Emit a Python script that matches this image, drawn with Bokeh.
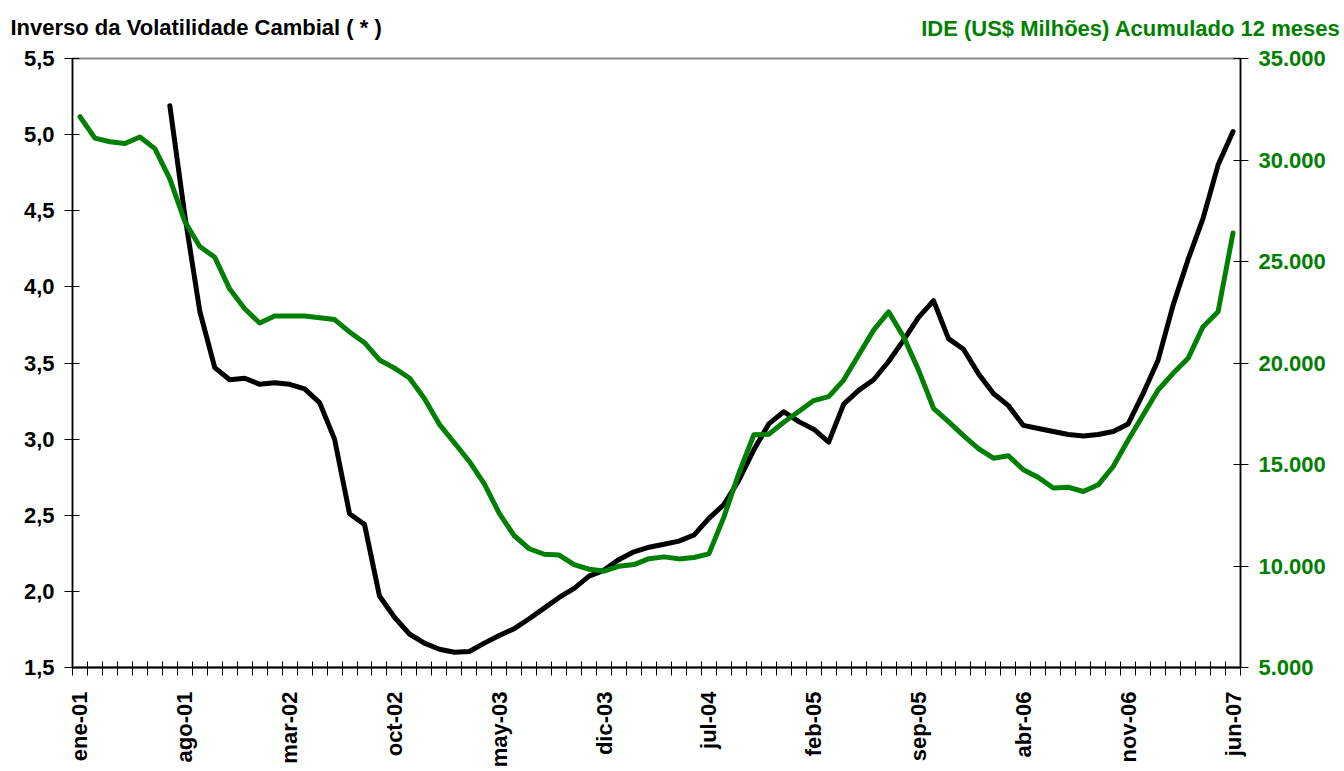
import math
import numpy as np
from bokeh.plotting import figure
from bokeh.models import (Range1d, LinearAxis, FixedTicker, CustomJSTickFormatter,
                          ColumnDataSource, Label)
from bokeh.embed import file_html
from bokeh.resources import INLINE

# ---------------- data ----------------
tick_labels = ["ene-01", "ago-01", "mar-02", "oct-02", "may-03", "dic-03",
               "jul-04", "feb-05", "sep-05", "abr-06", "nov-06", "jun-07"]
n_months = 78          # ene-01 .. jun-07, monthly
tick_step = 7

# Inverso da Volatilidade Cambial (left axis), starts jul-01
inv_volatility = [None, None, None, None, None, None,
                  5.19, 4.47, 3.84, 3.47, 3.39, 3.40, 3.36, 3.37, 3.36, 3.33,
                  3.24, 3.00, 2.51, 2.44, 1.97, 1.83, 1.72, 1.66, 1.62, 1.60,
                  1.605, 1.66, 1.71, 1.755, 1.82, 1.89, 1.96, 2.02, 2.10, 2.14,
                  2.21, 2.26, 2.29, 2.31, 2.33, 2.37, 2.48, 2.57, 2.73, 2.93,
                  3.10, 3.18, 3.115, 3.065, 2.98, 3.23, 3.32, 3.39, 3.51, 3.65,
                  3.80, 3.91, 3.66, 3.59, 3.43, 3.30, 3.22, 3.09, 3.07, 3.05,
                  3.03, 3.02, 3.03, 3.05, 3.10, 3.30, 3.52, 3.88, 4.18, 4.45,
                  4.80, 5.02]

# IDE (US$ Milhões) acumulado 12 meses (right axis)
ide_12m = [32130, 31080, 30900, 30810, 31130, 30560, 29070, 26970, 25740, 25210,
           23640, 22670, 21970, 22320, 22320, 22320, 22230, 22140, 21530, 21000,
           20150, 19750, 19260, 18250, 16980, 16070, 15150, 14050, 12590, 11490,
           10850, 10580, 10540, 10070, 9840, 9750, 9990, 10070, 10360, 10450,
           10350, 10420, 10600, 12410, 14570, 16460, 16490, 17080, 17610, 18150,
           18340, 19160, 20390, 21620, 22520, 21290, 19650, 17770, 17110, 16420,
           15780, 15310, 15430, 14740, 14360, 13840, 13880, 13670, 14000, 14900,
           16210, 17440, 18670, 19490, 20230, 21790, 22520, 26400]

left_title = "Inverso da Volatilidade Cambial ( * )"
right_title = "IDE (US$ Milhões) Acumulado 12 meses"

# ---------------- layout ----------------
W, H = 1340, 770
B_LEFT, B_RIGHT, B_TOP, B_BOTTOM = 72, 100, 58, 102
FONT = "Liberation Sans"
GREEN = "#008000"

x_idx = np.arange(n_months)
black_y = np.array([np.nan if v is None else v for v in inv_volatility], dtype=float)
src = ColumnDataSource(dict(x=x_idx, inv=black_y, ide=np.array(ide_12m, dtype=float)))

p = figure(width=W, height=H, output_backend="svg", toolbar_location=None,
           title_location=None,
           x_range=Range1d(-0.5, n_months - 0.5), y_range=Range1d(1.5, 5.5),
           min_border_left=B_LEFT, min_border_right=B_RIGHT,
           min_border_top=B_TOP, min_border_bottom=B_BOTTOM,
           background_fill_color="white", border_fill_color="white")
p.extra_y_ranges = {"ide": Range1d(5000, 35000)}
p.xgrid.visible = False
p.ygrid.visible = False
p.outline_line_color = "#8a8a8a"
p.outline_line_width = 2

# x axis
xa = p.xaxis[0]
xa.ticker = FixedTicker(ticks=list(range(0, n_months, tick_step)),
                        minor_ticks=[k - 0.5 for k in range(n_months + 1)])
xa.formatter = CustomJSTickFormatter(args=dict(labels=tick_labels, step=tick_step),
                                     code="const i = Math.round(tick/step); return labels[i] || '';")
xa.major_tick_line_color = None
xa.minor_tick_line_color = "black"
xa.minor_tick_line_width = 1
xa.minor_tick_in = 6
xa.minor_tick_out = 8
xa.axis_line_color = "black"
xa.axis_line_width = 2
xa.major_label_orientation = math.pi / 2
xa.major_label_standoff = 16
xa.major_label_text_font = FONT
xa.major_label_text_font_style = "bold"
xa.major_label_text_font_size = "22px"
xa.major_label_text_color = "black"

# left y axis
ya = p.yaxis[0]
ya.ticker = FixedTicker(ticks=[1.5, 2.0, 2.5, 3.0, 3.5, 4.0, 4.5, 5.0, 5.5])
ya.formatter = CustomJSTickFormatter(code="return tick.toFixed(1).replace('.', ',');")
ya.minor_tick_line_color = None
ya.major_tick_in = 7
ya.major_tick_out = 8
ya.major_tick_line_color = "black"
ya.axis_line_color = "black"
ya.axis_line_width = 1.5
ya.major_label_standoff = 10
ya.major_label_text_font = FONT
ya.major_label_text_font_style = "bold"
ya.major_label_text_font_size = "22px"
ya.major_label_text_color = "black"

# right y axis
ra = LinearAxis(y_range_name="ide",
                ticker=FixedTicker(ticks=[5000, 10000, 15000, 20000, 25000, 30000, 35000]),
                formatter=CustomJSTickFormatter(code="return (tick/1000).toFixed(3);"))
ra.minor_tick_line_color = None
ra.major_tick_in = 7
ra.major_tick_out = 8
ra.major_tick_line_color = "black"
ra.axis_line_color = "black"
ra.axis_line_width = 1.5
ra.major_label_standoff = 10
ra.major_label_text_font = FONT
ra.major_label_text_font_style = "bold"
ra.major_label_text_font_size = "22px"
ra.major_label_text_color = GREEN
p.add_layout(ra, "right")

# lines
p.line("x", "inv", source=src, color="black", line_width=5,
       line_join="round", line_cap="round")
p.line("x", "ide", source=src, color=GREEN, line_width=5, y_range_name="ide",
       line_join="round", line_cap="round")

# headings placed in the top side panel (screen units, relative to the panel)
p.add_layout(Label(x=-(B_LEFT - 10), y=31, x_units="screen", y_units="screen",
                   text=left_title, text_font=FONT, text_font_style="bold",
                   text_font_size="22px", text_color="black",
                   text_align="left", text_baseline="alphabetic"), "above")
p.add_layout(Label(x=W - B_LEFT, y=5, x_units="screen", y_units="screen",
                   text=right_title, text_font=FONT, text_font_style="bold",
                   text_font_size="22px", text_color=GREEN,
                   text_align="right", text_baseline="alphabetic"), "above")

open("out.html", "w").write(file_html(p, INLINE))
